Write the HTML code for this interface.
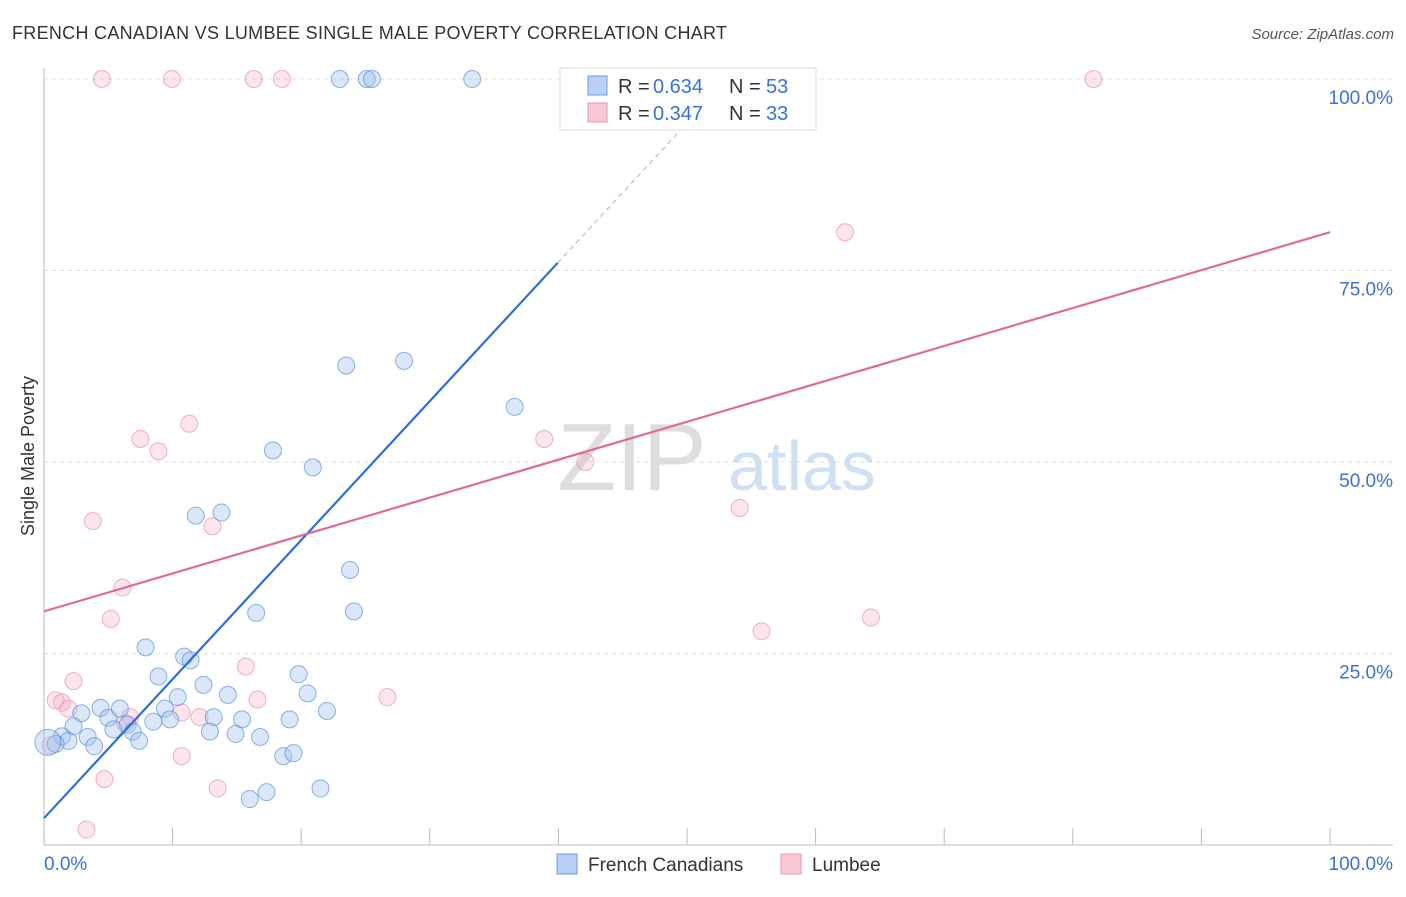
<!DOCTYPE html>
<html><head><meta charset="utf-8"><style>
body{margin:0;background:#fff;font-family:"Liberation Sans",sans-serif;}
svg text{font-family:"Liberation Sans",sans-serif;}
</style></head><body>
<svg id="c" width="1406" height="892">
<text x="12" y="39" font-size="18" fill="#333" textLength="715">FRENCH CANADIAN VS LUMBEE SINGLE MALE POVERTY CORRELATION CHART</text>
<text x="1394" y="39" font-size="15" fill="#555" font-style="italic" text-anchor="end">Source: ZipAtlas.com</text>
<text x="632" y="490" font-size="96" fill="#ddd" font-family="Liberation Serif" text-anchor="middle">ZIP</text>
<text x="802" y="490" font-size="70" fill="#cfe0f3" text-anchor="middle">atlas</text>
<g id="grid"></g>
<g id="marks"></g>
<text transform="translate(34,456) rotate(-90)" font-size="18" fill="#333" text-anchor="middle">Single Male Poverty</text>
<g>
<rect x="560" y="68" width="256" height="62" fill="#fff" stroke="#ddd"/>
<rect x="588" y="76" width="19" height="19" fill="#b8d0f5" stroke="#6a9be0"/>
<text x="618" y="93" font-size="20" fill="#333">R =</text><text x="653" y="93" font-size="20" fill="#3a70d8">0.634</text>
<text x="729" y="93" font-size="20" fill="#333">N =</text><text x="766" y="93" font-size="20" fill="#3a70d8">53</text>
<rect x="588" y="103" width="19" height="19" fill="#f9c6d4" stroke="#e89ab0"/>
<text x="618" y="120" font-size="20" fill="#333">R =</text><text x="653" y="120" font-size="20" fill="#3a70d8">0.347</text>
<text x="729" y="120" font-size="20" fill="#333">N =</text><text x="766" y="120" font-size="20" fill="#3a70d8">33</text>
</g>
<g>
<rect x="557" y="854" width="20" height="20" fill="#b8d0f5" stroke="#6a9be0"/>
<text x="588" y="871" font-size="19" fill="#333">French Canadians</text>
<rect x="781" y="854" width="20" height="20" fill="#f9c6d4" stroke="#e89ab0"/>
<text x="812" y="871" font-size="19" fill="#333">Lumbee</text>
</g>
</svg>
<script>
const blueX=[23,25.1,25.5,33.3,23.5,28,36.6,17.8,20.9,11.8,13.8,23.8,16.5,24.1,7.9,10.9,11.4,8.9,19.8,12.4,10.4,14.3,20.5,22,4.4,2.9,5,5.9,9.4,15.4,13.2,19.1,8.5,9.8,6.5,2.3,5.4,6.9,12.9,14.9,16.8,1.4,3.4,1.9,0.9,7.4,3.9,0.3,18.6,19.4,16,17.3,21.5];
const blueY=[100,100,100,100,62.6,63.2,57.2,51.5,49.3,43,43.4,35.9,30.3,30.5,25.8,24.6,24.1,22,22.3,20.9,19.3,19.6,19.8,17.5,17.9,17.2,16.6,17.8,17.8,16.4,16.7,16.4,16.1,16.4,15.7,15.5,15.1,14.8,14.8,14.5,14.1,14.2,14.1,13.6,13.2,13.6,12.9,13.4,11.6,12,6,6.9,7.4];
const pinkX=[4.5,9.95,16.3,18.5,81.6,62.3,11.3,7.5,8.9,38.9,42.1,3.8,13.1,54.1,6.1,5.2,55.8,64.3,15.7,2.3,0.9,1.4,26.7,16.6,1.9,6.7,10.7,12.1,6.3,10.7,4.7,13.5,3.3,0.5];
const pinkY=[100,100,100,100,100,80,55,53,51.4,53,50.0,42.3,41.6,44,33.6,29.5,27.9,29.7,23.3,21.4,18.9,18.6,19.3,19,17.8,16.7,17.3,16.7,15.9,11.6,8.6,7.4,2.0,13];
const yTicks=[25,50,75,100];
const yTickLabels=["25.0%","50.0%","75.0%","100.0%"];
const xTicks=[0,10,20,30,40,50,60,70,80,90,100];
const blueLine=[3.5,1.815];   // intercept, slope (%/%)
const pinkLine=[30.5,0.495];
const X=v=>44+v*12.86, Y=v=>845-v*7.66;
const NS="http://www.w3.org/2000/svg";
function mk(t,a,p){const e=document.createElementNS(NS,t);for(const k in a)e.setAttribute(k,a[k]);p.appendChild(e);return e;}
const g=document.getElementById('grid'),m=document.getElementById('marks');
yTicks.forEach((t,i)=>{
 const l=mk('line',{x1:44,x2:1393,y1:Y(t),y2:Y(t),stroke:'#ddd','stroke-dasharray':'4,4'},g);
 
 
 const tx=mk('text',{x:1393,y:Y(t)+25,'font-size':19,fill:'#3a70d8','text-anchor':'end'},g);tx.textContent=yTickLabels[i];
 
 
});
mk('line',{x1:44,x2:44,y1:68,y2:845,stroke:'#bbb'},g);
mk('line',{x1:44,x2:1393,y1:845,y2:845,stroke:'#bbb'},g);
xTicks.forEach(t=>{const l=mk('line',{x1:X(t),x2:X(t),y1:828,y2:845,stroke:'#bbb'},g);
 
 });
let t0=mk('text',{x:44,y:870,'font-size':19,fill:'#3a70d8'},g);t0.textContent='0.0%';


let t1=mk('text',{x:1393,y:870,'font-size':19,fill:'#3a70d8','text-anchor':'end'},g);t1.textContent='100.0%';


pinkX.forEach((x,i)=>{const c=mk('circle',{cx:X(x),cy:Y(pinkY[i]),r:8.5,fill:'rgba(245,170,195,0.3)',stroke:'rgba(230,130,160,0.6)','stroke-width':1},m);
 
 });
blueX.forEach((x,i)=>{const c=mk('circle',{cx:X(x),cy:Y(blueY[i]),r:i==47?13:8.5,fill:'rgba(160,195,240,0.4)',stroke:'rgba(70,130,210,0.6)','stroke-width':1},m);
 
 });
const bx2=(76-blueLine[0])/blueLine[1];
let bl=mk('line',{x1:X(0),y1:Y(blueLine[0]),x2:X(bx2),y2:Y(blueLine[0]+blueLine[1]*bx2),stroke:'#2a6fdb','stroke-width':2.2},m);


const bx3=(100-blueLine[0])/blueLine[1];
let bd=mk('line',{x1:X(bx2),y1:Y(blueLine[0]+blueLine[1]*bx2),x2:X(bx3),y2:Y(100),stroke:'#9bb8e0','stroke-width':1,'stroke-dasharray':'5,4'},m);


let pl=mk('line',{x1:X(0),y1:Y(pinkLine[0]),x2:X(100),y2:Y(pinkLine[0]+pinkLine[1]*100),stroke:'#e06a94','stroke-width':2.2},m);


</script>
</body></html>
